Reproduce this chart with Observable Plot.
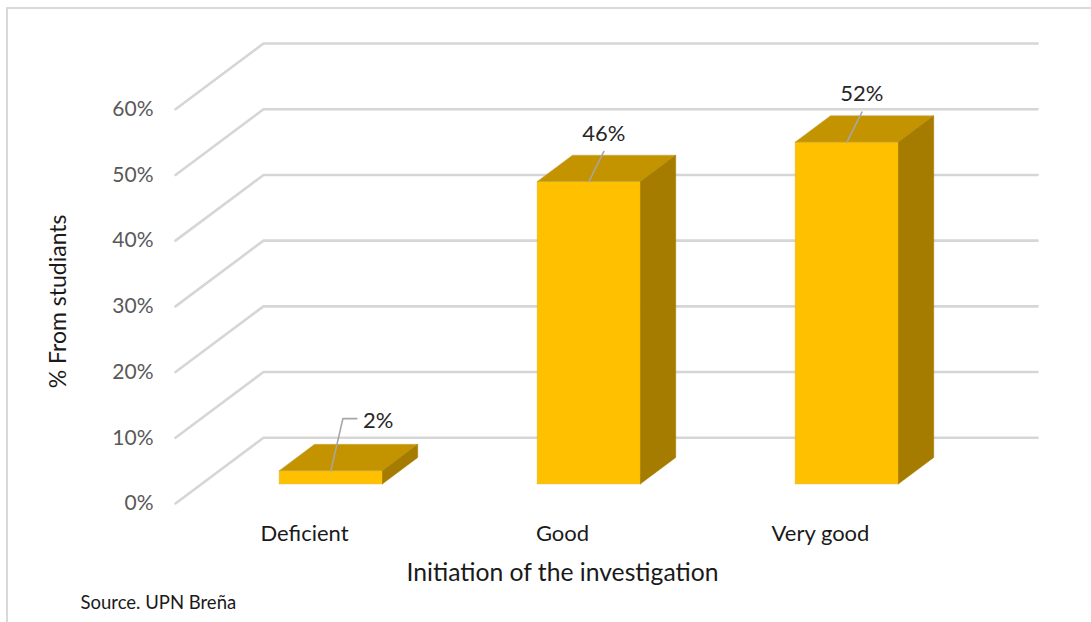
<!DOCTYPE html>
<html>
<head>
<meta charset="utf-8">
<script src="https://cdn.jsdelivr.net/npm/d3@7"></script>
<script src="https://cdn.jsdelivr.net/npm/@observablehq/plot@0.6"></script>
<style>
  html, body { margin: 0; padding: 0; background: #fff; }
  body { width: 1091px; height: 622px; position: relative; overflow: hidden; font-family: Lato, "Noto Sans", sans-serif; }
  #frame { position: absolute; left: 6px; top: 7px; right: 0; bottom: 0; border-left: 2px solid #d9d9d9; border-top: 2px solid #d9d9d9; }
  #chart { position: absolute; left: 0; top: 0; }
</style>
</head>
<body>
<div id="frame"></div>
<div id="chart"></div>
<script>
// ---- data ----
const categories = ["Deficient", "Good", "Very good"];
const values = [2, 46, 52];
const yTicks = [0, 10, 20, 30, 40, 50, 60];
const xTitle = "Initiation of the investigation";
const yTitle = "% From studiants";
const sourceText = "Source. UPN Breña";

// ---- 3D projection constants (oblique) ----
const DX = 0.3411;   // depth 1 → x shift in category units
const DY = 10;       // depth 1 → y shift in % units
const PX_X = 258;    // px per category unit
const PX_Y = 6.567;  // px per %
const B0 = 0.3, B1 = 0.7;   // bar extent within category (front width)
const D0 = 0.3, D1 = 0.7;   // bar extent in depth
const proj = (c, d, v) => ({x: c + d * DX, y: v + d * DY});

// gridlines: front-left diagonal + back wall horizontal
const grid = yTicks.flatMap(v => [
  {...proj(0, 0, v), g: v},
  {...proj(0, 1, v), g: v},
  {...proj(categories.length, 1, v), g: v}
]);

const frontFaces = [], topFaces = [], sideFaces = [];
values.forEach((v, i) => {
  const c0 = i + B0, c1 = i + B1;
  const f = [proj(c0, D0, 0), proj(c1, D0, 0), proj(c1, D0, v), proj(c0, D0, v), proj(c0, D0, 0)];
  const t = [proj(c0, D0, v), proj(c1, D0, v), proj(c1, D1, v), proj(c0, D1, v), proj(c0, D0, v)];
  const s = [proj(c1, D0, 0), proj(c1, D1, 0), proj(c1, D1, v), proj(c1, D0, v), proj(c1, D0, 0)];
  f.forEach(p => frontFaces.push({...p, id: i}));
  t.forEach(p => topFaces.push({...p, id: i}));
  s.forEach(p => sideFaces.push({...p, id: i}));
});

// leader lines + labels
const leaders = [], labels = [];
values.forEach((v, i) => {
  const p = proj(i + 0.5, D0, v);
  if (v < 10) {
    const e = {x: p.x + 12 / PX_X, y: p.y + 52 / PX_Y};
    const e2 = {x: e.x + 14 / PX_X, y: e.y};
    leaders.push({...p, id: i}, {...e, id: i}, {...e2, id: i});
    labels.push({...e2, text: v + "%", anchor: "start"});
  } else {
    const e = {x: p.x + 15 / PX_X, y: p.y + 30 / PX_Y};
    leaders.push({...p, id: i}, {...e, id: i});
    labels.push({...e, text: v + "%", anchor: "middle"});
  }
});

const catData = categories.map((c, i) => ({x: i + 0.5, label: c}));

const chart = Plot.plot({
  width: 1091,
  height: 622,
  marginLeft: 175,
  marginRight: 54,
  marginTop: 43,
  marginBottom: 119,
  style: {fontFamily: "Lato, 'Noto Sans', sans-serif", background: "transparent"},
  x: {type: "linear", domain: [0, categories.length + DX], axis: null},
  y: {type: "linear", domain: [0, 70], axis: null},
  marks: [
    Plot.line(grid, {x: "x", y: "y", z: "g", stroke: "#d6d6d6", strokeWidth: 2.6, curve: "linear"}),
    Plot.axisY({ticks: yTicks, tickFormat: d => d + "%", tickSize: 0, tickPadding: 22, fontSize: 21, color: "#595959", label: null}),
    Plot.line(frontFaces, {x: "x", y: "y", z: "id", fill: "#FFC000", stroke: "#e0b000", strokeWidth: 0.6, curve: "linear"}),
    Plot.line(topFaces, {x: "x", y: "y", z: "id", fill: "#C49300", stroke: "#c8a64a", strokeWidth: 0.6, curve: "linear"}),
    Plot.line(sideFaces, {x: "x", y: "y", z: "id", fill: "#A67C00", stroke: "#a67c00", strokeWidth: 0.6, curve: "linear"}),
    Plot.line(leaders, {x: "x", y: "y", z: "id", stroke: "#a6a6a6", strokeWidth: 1.6, curve: "linear"}),
    Plot.text(labels.filter(d => d.anchor === "middle"), {x: "x", y: "y", text: "text", dy: -18, textAnchor: "middle", fontSize: 22, fill: "#262626"}),
    Plot.text(labels.filter(d => d.anchor === "start"), {x: "x", y: "y", text: "text", dx: 6, dy: 2, textAnchor: "start", fontSize: 22, fill: "#262626"}),
    Plot.text(catData, {x: "x", y: () => 0, text: "label", dy: 30, fontSize: 22, fill: "#1a1a1a"}),
    Plot.text([xTitle], {x: () => categories.length / 2, y: () => 0, text: d => d, dy: 70, fontSize: 24.7, fill: "#1a1a1a"}),
    Plot.text([yTitle], {x: () => 0, y: () => 30, text: d => d, dx: -117, dy: -5, rotate: -90, fontSize: 23, fill: "#1a1a1a"}),
    Plot.text([sourceText], {x: () => 0, y: () => 0, text: d => d, dx: -95, dy: 100, textAnchor: "start", fontSize: 18.5, fill: "#1a1a1a"})
  ]
});
document.getElementById("chart").appendChild(chart);
</script>
</body>
</html>
